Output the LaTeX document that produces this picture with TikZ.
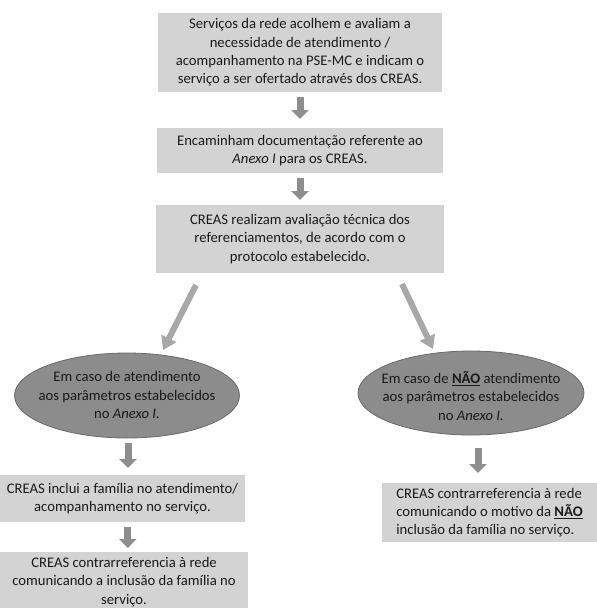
\documentclass[tikz,border=0pt]{standalone}
\usepackage{fontspec}
\setmainfont{Carlito}
\usetikzlibrary{arrows.meta,calc,shapes.geometric}
\definecolor{boxgray}{HTML}{D3D3D3}
\definecolor{ellgray}{HTML}{8C8C8C}
\definecolor{ellline}{HTML}{6A6A6A}
\definecolor{arrgray}{HTML}{8E8E8E}
\definecolor{diaggray}{HTML}{A8A8A8}
\definecolor{txtcol}{HTML}{1A1A1A}
\begin{document}
\begin{tikzpicture}[x=0.75pt,y=-0.75pt,
  every node/.style={font=\fontsize{11}{13.75}\selectfont, text=txtcol, inner sep=0pt, outer sep=0pt},
  box/.style={fill=boxgray, align=center},
  ellshape/.style={ellipse, fill=ellgray, draw=ellline, line width=0.6pt},
  elltext/.style={align=center},
  vdown/.style={draw=arrgray, line width=5.25pt, -{Triangle[width=12.75pt,length=6.75pt]}},
  diag/.style={draw=diaggray, line width=4.5pt, -{Triangle[width=12pt,length=9.75pt]}}]
\useasboundingbox (0,0) rectangle (597,608);

% top column
\node[box, minimum width=213pt, minimum height=59.25pt] (b1) at (300,52.5)
  {Serviços da rede acolhem e avaliam a\\necessidade de atendimento /\\acompanhamento na PSE-MC e indicam o\\serviço a ser ofertado através dos CREAS.};
\node[box, minimum width=214.5pt, minimum height=33.75pt] (b2) at (300,150.5)
  {Encaminham documentação referente ao\\\textit{Anexo I} para os CREAS.};
\node[box, minimum width=216pt, minimum height=51pt] (b3) at (300,239)
  {CREAS realizam avaliação técnica dos\\referenciamentos, de acordo com o\\protocolo estabelecido.};

% left branch
\node[ellshape, minimum width=168.75pt, minimum height=63.75pt] (eL) at (127,395.5) {};
\node[elltext] (eLt) at (127,395) {Em caso de atendimento\\aos parâmetros estabelecidos\\no \textit{Anexo I.}};
\node[box, minimum width=183.75pt, minimum height=35.25pt] (b4) at (122.5,498.5)
  {CREAS inclui a família no atendimento/\\acompanhamento no serviço.};
\node[box, minimum width=186pt, minimum height=45pt] (b5) at (124,582)
  {CREAS contrarreferencia à rede\\comunicando a inclusão da família no\\serviço.};

% right branch
\node[ellshape, minimum width=169.5pt, minimum height=63pt] (eR) at (471,393) {};
\node[elltext] (eRt) at (471,396) {Em caso de \underline{\textbf{NÃO}} atendimento\\aos parâmetros estabelecidos\\no \textit{Anexo I.}};
\node[box, minimum width=161.25pt, minimum height=44.25pt, align=left] (bR) at (489.5,512.5)
  {CREAS contrarreferencia à rede\\comunicando o motivo da \underline{\textbf{NÃO}}\\inclusão da família no serviço.};

% vertical block arrows
\draw[vdown, shorten <=3.75pt, shorten >=6.75pt] (b1.south) -- (b2.north);
\draw[vdown, shorten <=3.75pt, shorten >=3.75pt] (b2.south) -- (b3.north);
\draw[vdown, shorten <=3.75pt, shorten >=5.25pt] ([xshift=0.75pt]eL.south) -- ([xshift=0.75pt]eL.south |- b4.north);
\draw[vdown, shorten <=3.75pt, shorten >=3pt] ([xshift=4pt]b4.south) -- ([xshift=4pt]b4.south |- b5.north);
\draw[vdown, shorten <=9.75pt, shorten >=7.5pt] ([xshift=5.25pt]eR.south) -- ([xshift=5.25pt]eR.south |- bR.north);

% diagonal arrows
\coordinate (dLs) at ($(b3.south)+(-104,12)$);
\coordinate (dLe) at ($(eL.north)+(36,-3)$);
\coordinate (dRs) at ($(b3.south)+(102,11)$);
\coordinate (dRe) at ($(eR.north)+(-38,-2)$);
\draw[diag] (dLs) -- (dLe);
\draw[diag] (dRs) -- (dRe);
\end{tikzpicture}
\end{document}
